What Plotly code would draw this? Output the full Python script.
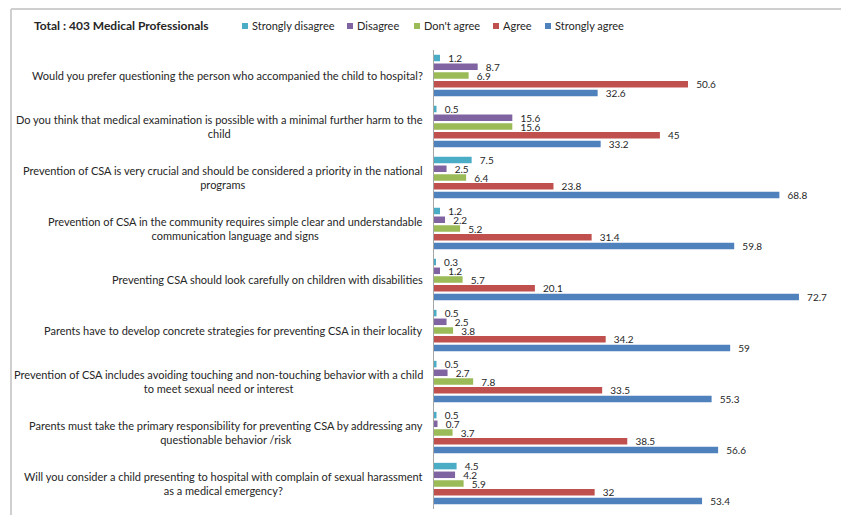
import plotly.graph_objects as go

W, H = 841, 515

statements = [
    "Would you prefer questioning the person who accompanied the child to hospital?",
    "Do you think that medical examination is possible with a minimal further harm to the<br>child",
    "Prevention of CSA is very crucial and should be considered a priority in the national<br>programs",
    "Prevention of CSA in the community requires simple clear and understandable<br>communication language and signs",
    "Preventing CSA should look carefully on children with disabilities",
    "Parents have to develop concrete strategies for preventing CSA in their locality",
    "Prevention of CSA includes avoiding touching and non-touching behavior with a child<br>to meet sexual need or interest",
    "Parents must take the primary responsibility for preventing CSA by addressing any<br>questionable behavior /risk",
    "Will you consider a child presenting to hospital with complain of sexual harassment<br>as a medical emergency?",
]

strongly_disagree = [1.2, 0.5, 7.5, 1.2, 0.3, 0.5, 0.5, 0.5, 4.5]
disagree = [8.7, 15.6, 2.5, 2.2, 1.2, 2.5, 2.7, 0.7, 4.2]
dont_agree = [6.9, 15.6, 6.4, 5.2, 5.7, 3.8, 7.8, 3.7, 5.9]
agree = [50.6, 45, 23.8, 31.4, 20.1, 34.2, 33.5, 38.5, 32]
strongly_agree = [32.6, 33.2, 68.8, 59.8, 72.7, 59, 55.3, 56.6, 53.4]

series_names = ["Strongly disagree", "Disagree", "Don't agree", "Agree", "Strongly agree"]
series_values = [strongly_disagree, disagree, dont_agree, agree, strongly_agree]
series_colors = ["#4BACC6", "#8064A2", "#9BBB59", "#C0504D", "#4F81BD"]

FONT = "Lato, 'Open Sans', sans-serif"
TEXT_COL = "#262626"

# category keys (plain) used on the axis; the wrapped text is drawn as annotations
cat_keys = [s.replace("<br>", " ") for s in statements]

fig = go.Figure()
for name, vals, col in zip(series_names, series_values, series_colors):
    fig.add_trace(go.Bar(
        y=cat_keys, x=vals, name=name, orientation="h",
        marker=dict(color=col, line=dict(width=0)),
        text=[f"{v:g}" for v in vals],
        texttemplate="  %{text}",
        textposition="outside",
        constraintext="none",
        cliponaxis=False,
        textfont=dict(family=FONT, size=10, color=TEXT_COL),
        showlegend=False,
    ))

# plot area geometry in pixels
x0_px, x1_px = 434, 835.6
y0_px, y1_px = 50, 509

fig.update_layout(
    width=W, height=H,
    margin=dict(l=0, r=0, t=0, b=0),
    paper_bgcolor="white", plot_bgcolor="white",
    barmode="group", bargap=0.147, bargroupgap=0.25,
    font=dict(family=FONT, size=11, color=TEXT_COL),
    xaxis=dict(domain=[x0_px / W, x1_px / W], range=[0, 80],
               showgrid=False, zeroline=False, showticklabels=False, ticks=""),
    yaxis=dict(domain=[1 - y1_px / H, 1 - y0_px / H],
               type="category", categoryorder="array", categoryarray=cat_keys,
               range=[len(cat_keys) - 0.5, -0.5],
               showgrid=False, zeroline=False, showticklabels=False, ticks="",
               showline=True, linecolor="#a6a6a6", linewidth=1),
)

# statement labels, centred lines, right-aligned against the axis
for key, label in zip(cat_keys, statements):
    fig.add_annotation(x=0, y=key, xref="x", yref="y", text=label,
                       showarrow=False, xanchor="right", yanchor="middle",
                       align="center", xshift=-9,
                       font=dict(family=FONT, size=11, color=TEXT_COL))

# chart frame
frame_col = "#cfcfcf"
fig.add_shape(type="line", xref="paper", yref="paper",
              x0=11 / W, x1=1, y0=1 - 9 / H, y1=1 - 9 / H,
              line=dict(color=frame_col, width=2))
fig.add_shape(type="line", xref="paper", yref="paper",
              x0=11 / W, x1=11 / W, y0=0, y1=1 - 9 / H,
              line=dict(color=frame_col, width=2))

# title
fig.add_annotation(x=32 / W, y=1 - 26 / H, xref="paper", yref="paper",
                   text="<b>Total : 403 Medical Professionals</b>",
                   showarrow=False, xanchor="left", yanchor="middle",
                   font=dict(family=FONT, size=12, color=TEXT_COL))

# legend row
legend_x = [242, 347, 414, 493, 545]
leg_y = 26
for name, col, lx in zip(series_names, series_colors, legend_x):
    fig.add_shape(type="rect", xref="paper", yref="paper",
                  x0=lx / W, x1=(lx + 6) / W,
                  y0=1 - (leg_y + 3) / H, y1=1 - (leg_y - 3) / H,
                  fillcolor=col, line=dict(width=0))
    fig.add_annotation(x=(lx + 8) / W, y=1 - leg_y / H, xref="paper", yref="paper",
                       text=name, showarrow=False, xanchor="left", yanchor="middle",
                       font=dict(family=FONT, size=11, color=TEXT_COL))

fig.write_html("out.html")
